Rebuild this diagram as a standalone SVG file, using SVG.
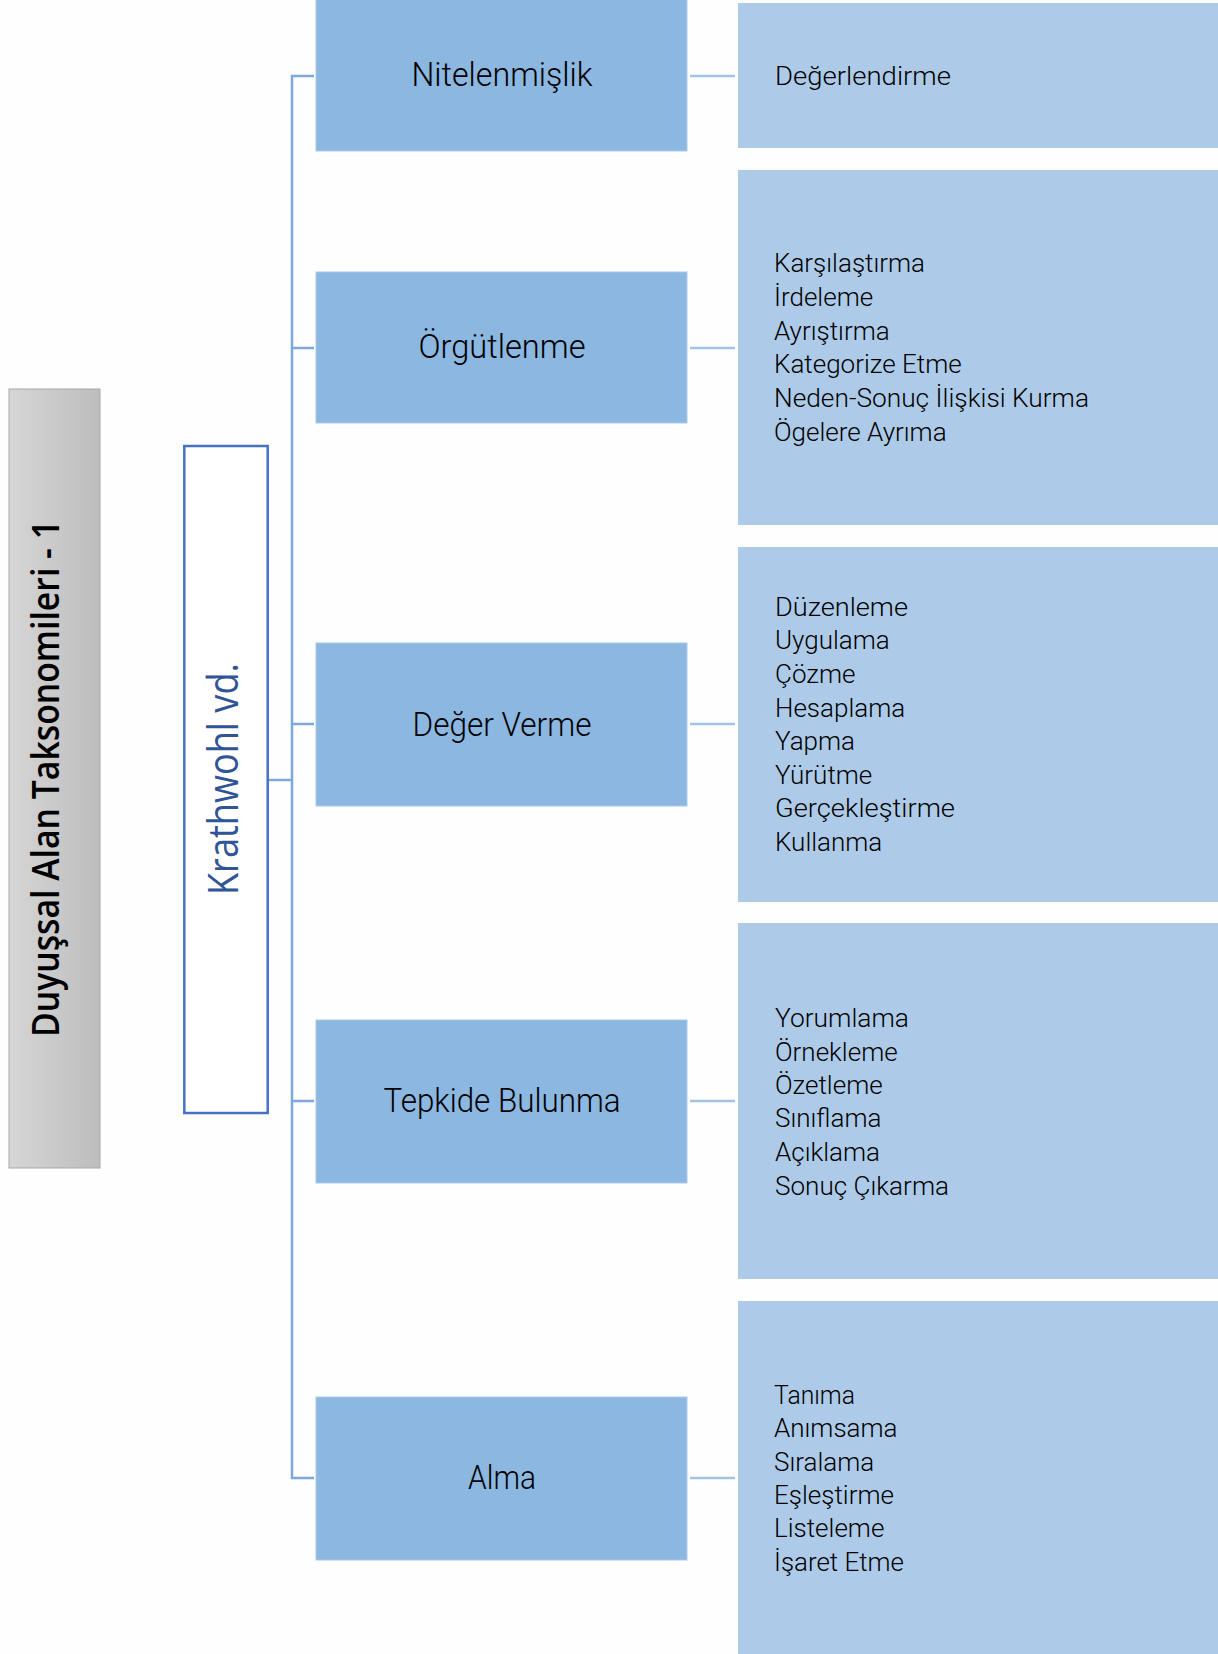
<svg xmlns="http://www.w3.org/2000/svg" width="1218" height="1654" viewBox="0 0 1218 1654">
<defs>
<linearGradient id="gray" x1="0" y1="0" x2="1" y2="0">
<stop offset="0" stop-color="#d6d6d6"/>
<stop offset="1" stop-color="#bdbdbd"/>
</linearGradient>
<style>
.mid{fill:#8bb7e0;stroke:#a9c9ea;stroke-width:1}
.det{fill:#adcbe8}
.midt{font-family:Roboto,"Liberation Sans",sans-serif;font-size:33px;font-weight:300;fill:#000;text-anchor:middle}
.dett{font-family:Roboto,"Liberation Sans",sans-serif;font-size:26px;font-weight:300;fill:#000}
.bus{stroke:#7ca8dc;stroke-width:2.5;fill:none}
.rc{stroke:#a3c2e6;stroke-width:2.5;fill:none}
</style>
</defs>
<rect width="1218" height="1654" fill="#fefefe"/>
<g id="connectors">
<path class="bus" d="M314 76 H292 V1478 H314"/>
<path class="bus" d="M292 348 H314 M292 724 H314 M292 1101 H314 M268 780 H292"/>
<path class="rc" d="M690 76 H735 M690 348 H735 M690 724 H735 M690 1101 H735 M690 1478 H735"/>
</g>
<g id="title">
<rect x="9" y="389" width="91" height="779" fill="url(#gray)" stroke="#a8a8a8" stroke-width="1"/>
<text transform="translate(59 778.5) rotate(-90)" font-family="'Open Sans','Liberation Sans',sans-serif" font-size="38" font-weight="600" fill="#000" text-anchor="middle" textLength="517" lengthAdjust="spacingAndGlyphs">Duyuşsal Alan Taksonomileri - 1</text>
</g>
<g id="krathwohl">
<rect x="184.3" y="446" width="83.4" height="667" fill="#fff" stroke="#4472c4" stroke-width="2.5"/>
<text transform="translate(238 779) rotate(-90)" font-family="'Open Sans','Liberation Sans',sans-serif" font-size="42" fill="#2f5597" text-anchor="middle" textLength="232" lengthAdjust="spacingAndGlyphs">Krathwohl vd.</text>
</g>
<g id="n1">
<rect class="mid" x="316" y="-1" width="371" height="152"/>
<text class="midt" x="502" y="86" textLength="181" lengthAdjust="spacingAndGlyphs">Nitelenmişlik</text>
</g>
<g id="n2">
<rect class="mid" x="316" y="272" width="371" height="151"/>
<text class="midt" x="502" y="358" textLength="167" lengthAdjust="spacingAndGlyphs">Örgütlenme</text>
</g>
<g id="n3">
<rect class="mid" x="316" y="643" width="371" height="163"/>
<text class="midt" x="502" y="736" textLength="179" lengthAdjust="spacingAndGlyphs">Değer Verme</text>
</g>
<g id="n4">
<rect class="mid" x="316" y="1020" width="371" height="163"/>
<text class="midt" x="502" y="1112" textLength="237" lengthAdjust="spacingAndGlyphs">Tepkide Bulunma</text>
</g>
<g id="n5">
<rect class="mid" x="316" y="1397" width="371" height="163"/>
<text class="midt" x="502" y="1489" textLength="68" lengthAdjust="spacingAndGlyphs">Alma</text>
</g>
<g id="d1">
<rect class="det" x="738" y="3" width="480" height="145"/>
<text class="dett" x="775" y="85" textLength="176" lengthAdjust="spacingAndGlyphs">Değerlendirme</text>
</g>
<g id="d2">
<rect class="det" x="738" y="170" width="480" height="355"/>
<text class="dett" x="774" y="272" textLength="151" lengthAdjust="spacingAndGlyphs">Karşılaştırma</text>
<text class="dett" x="774" y="306">İrdeleme</text>
<text class="dett" x="774" y="340">Ayrıştırma</text>
<text class="dett" x="774" y="373">Kategorize Etme</text>
<text class="dett" x="774" y="407" textLength="315" lengthAdjust="spacingAndGlyphs">Neden-Sonuç İlişkisi Kurma</text>
<text class="dett" x="774" y="441">Ögelere Ayrıma</text>
</g>
<g id="d3">
<rect class="det" x="738" y="547" width="480" height="355"/>
<text class="dett" x="775" y="616" textLength="133" lengthAdjust="spacingAndGlyphs">Düzenleme</text>
<text class="dett" x="775" y="649">Uygulama</text>
<text class="dett" x="775" y="683">Çözme</text>
<text class="dett" x="775" y="717">Hesaplama</text>
<text class="dett" x="775" y="750">Yapma</text>
<text class="dett" x="775" y="784">Yürütme</text>
<text class="dett" x="775" y="817" textLength="180" lengthAdjust="spacingAndGlyphs">Gerçekleştirme</text>
<text class="dett" x="775" y="851">Kullanma</text>
</g>
<g id="d4">
<rect class="det" x="738" y="923" width="480" height="356"/>
<text class="dett" x="775" y="1027" textLength="134" lengthAdjust="spacingAndGlyphs">Yorumlama</text>
<text class="dett" x="775" y="1061">Örnekleme</text>
<text class="dett" x="775" y="1094">Özetleme</text>
<text class="dett" x="775" y="1127">Sınıflama</text>
<text class="dett" x="775" y="1161">Açıklama</text>
<text class="dett" x="775" y="1195" textLength="174" lengthAdjust="spacingAndGlyphs">Sonuç Çıkarma</text>
</g>
<g id="d5">
<rect class="det" x="738" y="1301" width="480" height="360"/>
<text class="dett" x="774" y="1404" textLength="81" lengthAdjust="spacingAndGlyphs">Tanıma</text>
<text class="dett" x="774" y="1437">Anımsama</text>
<text class="dett" x="774" y="1471">Sıralama</text>
<text class="dett" x="774" y="1504">Eşleştirme</text>
<text class="dett" x="774" y="1537">Listeleme</text>
<text class="dett" x="774" y="1571" textLength="130" lengthAdjust="spacingAndGlyphs">İşaret Etme</text>
</g>
</svg>
